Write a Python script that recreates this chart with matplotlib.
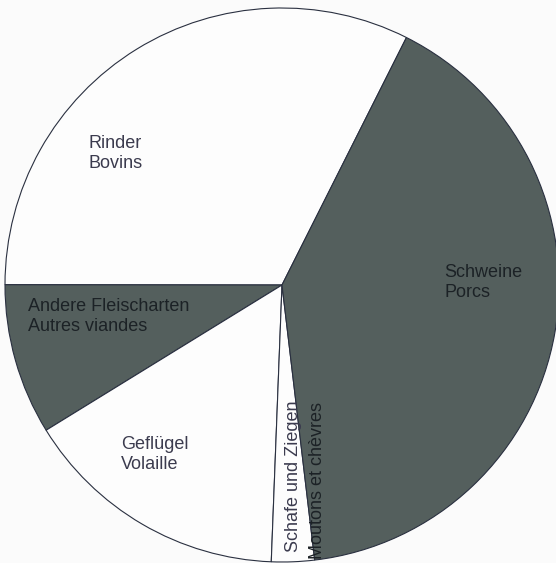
import matplotlib.pyplot as plt

# shares in percent, counterclockwise from the Rinder/Schweine border
labels = ['Rinder\nBovins', 'Andere Fleischarten\nAutres viandes', 'Geflügel\nVolaille',
          'Schafe und Ziegen', 'Schweine\nPorcs']
shares = [32.4, 8.8, 15.6, 2.5, 40.7]
colors = ['#fdfdfd', '#545f5d', '#fdfdfd', '#fdfdfd', '#545f5d']

plt.rcParams['font.family'] = ['Liberation Sans', 'DejaVu Sans']

fig = plt.figure(figsize=(5.56, 5.63), dpi=100, facecolor='#fbfbfb')
ax = fig.add_axes([0, 0, 1, 1])

ax.pie(shares, colors=colors, startangle=63.3, counterclock=True,
       center=(282, 278), radius=277, frame=True,
       wedgeprops=dict(edgecolor='#2a3040', linewidth=0.8))
ax.set_xlim(0, 556)
ax.set_ylim(0, 563)
ax.set_aspect('equal')
ax.axis('off')

light = '#3b3b4e'
dark = '#1c2226'
fs = 13
ls = 1.2
ax.text(88, 563 - 135, labels[0], ha='left', va='top', fontsize=fs, color=light, linespacing=ls)
ax.text(28, 563 - 298, labels[1], ha='left', va='top', fontsize=fs, color=dark, linespacing=ls)
ax.text(121, 563 - 436, labels[2], ha='left', va='top', fontsize=fs, color=light, linespacing=ls)
ax.text(444, 563 - 264, labels[4], ha='left', va='top', fontsize=fs, color=dark, linespacing=ls)
ax.text(294, 563 - 552, labels[3], rotation=90, ha='center', va='bottom', fontsize=fs, color=light)
ax.text(317, 563 - 559, 'Moutons et chèvres', rotation=90, ha='center', va='bottom', fontsize=fs, color=dark)

fig.savefig('out.png', dpi=100, facecolor=fig.get_facecolor())
